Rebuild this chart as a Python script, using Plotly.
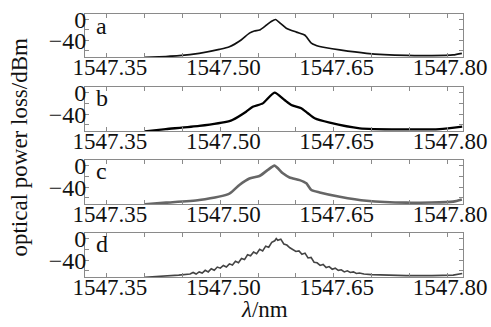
import plotly.graph_objects as go

# ---- data ----
wl_a = [1547.40, 1547.428, 1547.4456, 1547.472, 1547.4987, 1547.512, 1547.5275, 1547.5385, 1547.545, 1547.552,
        1547.5607, 1547.5673, 1547.573, 1547.58, 1547.5872, 1547.6005, 1547.6115, 1547.6138, 1547.6204, 1547.6314,
        1547.658, 1547.6934, 1547.7465, 1547.78, 1547.808, 1547.8195]
db_a = [-72, -70.5, -69, -64.5, -57, -52, -39, -26, -22, -20,
        -11, -4, 0, -8, -16.5, -24, -29.5, -33, -45, -51.5,
        -58, -64.5, -68.5, -68.8, -67.5, -64.5]

wl_b = [1547.40, 1547.428, 1547.472, 1547.512, 1547.5159, 1547.5341, 1547.5429, 1547.5562, 1547.5717,
        1547.585, 1547.5939, 1547.6071, 1547.6159, 1547.6248, 1547.6447, 1547.6845, 1547.74, 1547.79, 1547.82]
db_b = [-72, -68, -62, -53, -51, -35.6, -26.3, -20, 0,
        -13.8, -23, -29, -38.5, -47.8, -56, -66.5, -68.5, -68, -63.5]

wl_c = [1547.40, 1547.4283, 1547.4721, 1547.512, 1547.5252, 1547.5385, 1547.5518, 1547.5628, 1547.5717,
        1547.5827, 1547.5916, 1547.6049, 1547.6138, 1547.6204, 1547.6314, 1547.658, 1547.6934, 1547.7465,
        1547.808, 1547.8195]
db_c = [-72, -69, -64, -52, -36, -24, -19.4, -8, 0,
        -14.3, -22, -27, -33, -45.5, -50, -58, -65.5, -69,
        -67, -63]

wl_d = [1547.400, 1547.430, 1547.445, 1547.460, 1547.464, 1547.468, 1547.472, 1547.476, 1547.480,
        1547.484, 1547.488, 1547.492, 1547.496, 1547.500, 1547.504, 1547.508, 1547.512, 1547.516,
        1547.520, 1547.524, 1547.528, 1547.532, 1547.536, 1547.540, 1547.544, 1547.548, 1547.552,
        1547.556, 1547.560, 1547.564, 1547.568, 1547.572, 1547.574, 1547.576, 1547.580, 1547.584,
        1547.588, 1547.592, 1547.596, 1547.600, 1547.604, 1547.608, 1547.612, 1547.616, 1547.620,
        1547.624, 1547.628, 1547.632, 1547.636, 1547.640, 1547.644, 1547.648, 1547.652, 1547.656,
        1547.660, 1547.664, 1547.668, 1547.672, 1547.676, 1547.680, 1547.684, 1547.690, 1547.700,
        1547.720, 1547.746, 1547.780, 1547.808, 1547.820]
db_d = [-72, -70, -68, -66, -63, -66, -62, -64, -59,
        -62, -56, -59, -53, -55, -50, -53, -47, -49,
        -42, -45, -37, -39, -30, -32, -25, -28, -20,
        -23, -14, -16, -7, -4, 0, -3, -1, -10,
        -12, -17, -20, -24, -23, -29, -27, -36, -35,
        -44, -45, -50, -48, -54, -52, -57, -55, -59,
        -58, -62, -60, -63, -62, -65, -64, -66, -67,
        -68, -69, -69, -68, -65]

panel_labels = ["a", "b", "c", "d"]
x_tickvals = [1547.35, 1547.50, 1547.65, 1547.80]
x_ticktext = ["1547.35", "1547.50", "1547.65", "1547.80"]
y_tickvals = [0, -40]
y_ticktext = ["0", "\u221240"]

series = [(wl_a, db_a, "#111111", 1.7, "spline"),
          (wl_b, db_b, "#000000", 2.3, "spline"),
          (wl_c, db_c, "#666666", 2.6, "spline"),
          (wl_d, db_d, "#444444", 1.6, "linear")]

W, H = 491, 327
ml, mr, mt, mb = 85, 28, 14, 50
ph = H - mt - mb
panel_px = [(14, 57), (87, 131), (160, 204), (233, 277)]

FONT = "'Liberation Serif', 'Times New Roman', serif"
fig = go.Figure()
for i, (wl, db, col, lw, shp) in enumerate(series):
    n = "" if i == 0 else str(i + 1)
    top, bot = panel_px[i]
    dom = [(H - mb - bot) / ph, (H - mb - top) / ph]
    line = dict(color=col, width=lw, shape=shp)
    if shp == "spline":
        line["smoothing"] = 0.6
    fig.add_trace(go.Scatter(x=wl, y=db, mode="lines", line=line,
                             xaxis="x" + n, yaxis="y" + n, showlegend=False, hoverinfo="skip"))
    fig.layout["xaxis" + n] = dict(
        domain=[0, 1], anchor="y" + n, range=[1547.321, 1547.821], automargin=False,
        tickvals=x_tickvals, ticktext=x_ticktext, ticks="inside", ticklen=4,
        tickcolor="#8a8a8a", showline=True, linecolor="#8a8a8a", linewidth=1,
        mirror="allticks", showgrid=False, zeroline=False, ticklabelstandoff=-11,
        ticklabelshift=3,
        minor=dict(dtick=0.05, tick0=1547.35, ticks="inside", ticklen=4, tickcolor="#8a8a8a"),
        tickfont=dict(family=FONT, size=23, color="#111"))
    fig.layout["yaxis" + n] = dict(
        domain=dom, anchor="x" + n, range=[-71.5, 10.5], automargin=False,
        tickvals=y_tickvals, ticktext=y_ticktext, ticks="inside", ticklen=4,
        tickcolor="#8a8a8a", showline=True, linecolor="#8a8a8a", linewidth=1,
        mirror="allticks", showgrid=False, zeroline=False, ticklabelstandoff=-7,
        minor=dict(dtick=20, tick0=0, ticks="inside", ticklen=4, tickcolor="#8a8a8a"),
        tickfont=dict(family=FONT, size=24, color="#111"))
    fig.add_annotation(text=panel_labels[i], xref="x" + n + " domain", yref="y" + n + " domain",
                       x=0.025, y=1.08, xanchor="left", yanchor="top", showarrow=False,
                       font=dict(family=FONT, size=24, color="#111"))

fig.add_annotation(text="optical power loss/dBm", xref="paper", yref="paper",
                   x=-0.172, y=0.496, textangle=-90, showarrow=False, xanchor="center", yanchor="middle",
                   font=dict(family=FONT, size=23, color="#111"))
fig.add_annotation(text="<i>λ</i>/nm", xref="paper", yref="paper",
                   x=0.475, y=-0.125, showarrow=False, xanchor="center", yanchor="middle",
                   font=dict(family=FONT, size=23, color="#111"))

fig.update_layout(width=W, height=H, margin=dict(l=ml, r=mr, t=mt, b=mb),
                  plot_bgcolor="white", paper_bgcolor="white")
fig.write_html("out.html", config={"displayModeBar": False},
               post_script="document.body.style.margin='0';document.body.style.padding='0';")
